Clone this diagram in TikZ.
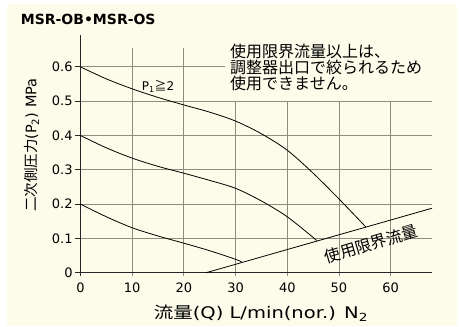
\documentclass[tikz,border=0pt]{standalone}
\usepackage{fontspec}
\setmainfont{DejaVu Sans}
\newfontfamily\jpfont{Noto Sans CJK JP}
\usepackage{tikz}
\usetikzlibrary{positioning}
\definecolor{panel}{RGB}{253,252,234}
\definecolor{gridgray}{RGB}{145,139,125}
\tikzstyle{gridline} = [gridgray, line width=1pt]
\tikzstyle{axis} = [black!85, line width=0.9pt]
\tikzstyle{curve} = [black, line width=0.8pt, smooth]
\tikzstyle{ticklabel} = [font=\fontsize{13}{15}\selectfont, inner sep=1pt]
\tikzstyle{jplabel} = [font=\jpfont\fontsize{16}{16.2}\selectfont, inner sep=0pt]

\begin{document}
\begin{tikzpicture}[x=5.17pt, y=343pt] % 1 unit = 1 L/min, 1 MPa

\fill[white] (-15.571,-0.15831) rectangle (73.211,0.79504);
\useasboundingbox (-15.571,-0.15831) rectangle (73.211,0.79504);
\fill[panel] (-14.217,-0.15539) rectangle (72.824,0.78338);

% grid
\foreach \y in {0.1,0.2,0.3,0.4,0.5}
	\draw[gridline] (0,\y) -- (68,\y);
\draw[gridline] (0,0.6) -- (28,0.6);
\foreach \x in {10,20}
	\draw[gridline] (\x,-0.009) -- (\x,0.655);
\foreach \x in {30,40,50,60}
	\draw[gridline] (\x,-0.009) -- (\x,0.5);

% axes
\draw[axis] (0,-0.009) -- (0,0.693);
\draw[axis] (0,0) -- (68,0);
\foreach \y in {0,0.1,0.2,0.3,0.4,0.5,0.6}
	\draw[axis] (-1,\y) -- (0,\y);

\foreach \y/\t [count=\i] in {0/0,0.1/0.1,0.2/0.2,0.3/0.3,0.4/0.4,0.5/0.5,0.6/0.6}
	\node[ticklabel, anchor=east] (ylab\i) at (-1.3,\y) {\t};
\foreach \x [count=\i] in {0,10,20,30,40,50,60}
	\node[ticklabel] (xlab\i) at (\x,-0.0446) {\x};

\node[font=\bfseries\fontsize{14}{16}\selectfont, anchor=west, inner sep=0pt] (title) at (-11.57,0.739) {MSR-OB•MSR-OS};
\node[font=\fontsize{14.5}{16}\selectfont, rotate=90] (ytitle) at (-9.44,0.372) {{\jpfont 二次側圧力}(P\textsubscript{2}) MPa};
\node[font=\fontsize{16}{18}\selectfont, xscale=1.22] (xtitle) at (34.9,-0.1175) {{\jpfont 流量}(Q) L/min(nor.) N\textsubscript{2}};
\node[jplabel, anchor=north west, align=left] (note) at (28.92,0.668) {使用限界流量以上は、\\調整器出口で絞られるため\\使用できません。};
\node[font=\fontsize{12}{14}\selectfont] (p1) at (15.0,0.542) {P\textsubscript{1}{\jpfont ≧}2};

% limit line
\coordinate (lim0) at (24.3,0);
\coordinate (lim1) at (68,0.188);
\draw[curve] (lim0) -- (lim1);
\node[jplabel, rotate=16.5] (limlabel) at (56.2,0.084) {使用限界流量};

% pressure curves
\draw[curve] plot coordinates {(0,0.6) (5,0.565) (10,0.536) (15,0.511) (20,0.489) (25,0.468) (30,0.442) (35,0.405) (40,0.357) (45,0.29) (50,0.215) (55.2,0.133)};
\draw[curve] plot coordinates {(0,0.4) (5,0.364) (10,0.334) (15,0.31) (20,0.29) (25,0.269) (30,0.246) (35,0.209) (40,0.163) (45.7,0.094)};
\draw[curve] plot coordinates {(0,0.2) (5,0.163) (10,0.131) (15,0.107) (20,0.086) (25,0.064) (30,0.039) (31.2,0.031)};

\end{tikzpicture}
\end{document}
